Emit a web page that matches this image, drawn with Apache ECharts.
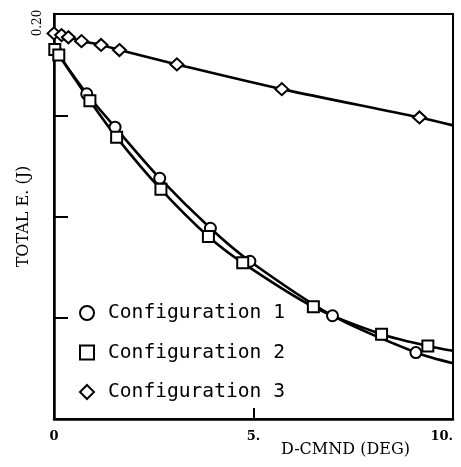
<!DOCTYPE html>
<html>
<head>
<meta charset="utf-8">
<script src="https://cdn.jsdelivr.net/npm/echarts@6/dist/echarts.min.js"></script>
<style>html,body{margin:0;padding:0;background:#fff}#c{width:461px;height:467px}</style>
</head>
<body>
<div id="c"></div>
<script>
// Configuration 1 (circles)
const config1X = [0.82, 1.53, 2.65, 3.92, 4.91, 6.98, 9.07];
const config1Y = [0.1606, 0.1441, 0.1189, 0.0942, 0.0779, 0.0510, 0.0328];
const config1CurveStart = [0.12, 0.1797];
const config1CurveEnd = [10, 0.0275];
// Configuration 2 (squares)
const config2X = [0.02, 0.12, 0.90, 1.57, 2.68, 3.87, 4.73, 6.50, 8.21, 9.37];
const config2Y = [0.1825, 0.1797, 0.1572, 0.1391, 0.1134, 0.0901, 0.0771, 0.0554, 0.0419, 0.0361];
const config2CurveEnd = [10, 0.0337];
// Configuration 3 (diamonds)
const config3X = [0.0, 0.19, 0.36, 0.69, 1.18, 1.64, 3.08, 5.71, 9.16];
const config3Y = [0.1904, 0.1896, 0.1885, 0.1866, 0.1847, 0.1822, 0.1751, 0.1629, 0.1489];
const config3CurveEnd = [10, 0.1450];

const seriesNames = ['Configuration 1', 'Configuration 2', 'Configuration 3'];
const xTickLabels = {0: '0', 5: '5.', 10: '10.'};
const yTickLabels = {'0.2': '0.20'};

function pts(xs, ys) { return xs.map((x, i) => [x, ys[i]]); }
function curve(start, xs, ys, end) {
  const d = [];
  if (start) d.push({value: start, symbol: 'none'});
  pts(xs, ys).forEach(p => d.push({value: p}));
  if (end) d.push({value: end, symbol: 'none'});
  return d;
}

const markerStyle = {color: '#fff', borderColor: '#000', borderWidth: 2};
const lineStyle = {color: '#000', width: 2.6};

const chart = echarts.init(document.getElementById('c'), null, {renderer: 'canvas'});
chart.setOption({
  animation: false,
  backgroundColor: '#fff',
  grid: {left: 54, top: 14, right: 8, bottom: 48, show: true, borderColor: '#000', borderWidth: 2, backgroundColor: 'transparent'},
  legend: {
    orient: 'vertical', left: 74, top: 298, itemGap: 19.5, itemWidth: 14, itemHeight: 14,
    itemStyle: {color: '#fff', borderColor: '#000', borderWidth: 2},
    textStyle: {fontFamily: 'DejaVu Sans Mono', fontSize: 19.6, color: '#000', lineHeight: 20, padding: [0, 0, 0, 9]},
    data: [
      {name: seriesNames[0], icon: 'circle'},
      {name: seriesNames[1], icon: 'rect'},
      {name: seriesNames[2], icon: 'diamond'}
    ]
  },
  xAxis: {
    type: 'value', min: 0, max: 10, interval: 5,
    name: 'D-CMND (DEG)', nameLocation: 'middle', nameGap: 23, nameMoveOverlap: false,
    nameTextStyle: {fontFamily: 'DejaVu Serif', fontSize: 16, color: '#000', padding: [0, 0, 0, 184]},
    axisLine: {lineStyle: {color: '#000', width: 2.5}},
    axisTick: {inside: true, length: 11, lineStyle: {color: '#000', width: 2}},
    axisLabel: {color: '#000', fontFamily: 'DejaVu Serif', fontWeight: 'bold', fontSize: 13, margin: 11,
      alignMaxLabel: 'right',
      formatter: v => xTickLabels[v] !== undefined ? xTickLabels[v] : ''},
    splitLine: {show: false}
  },
  yAxis: {
    type: 'value', min: 0, max: 0.2, interval: 0.05,
    name: 'TOTAL E. (J)', nameLocation: 'middle', nameGap: 22, nameMoveOverlap: false,
    nameTextStyle: {fontFamily: 'DejaVu Serif', fontSize: 16, color: '#000'},
    axisLine: {lineStyle: {color: '#000', width: 2.5}},
    axisTick: {inside: true, length: 14, lineStyle: {color: '#000', width: 2}},
    axisLabel: {color: '#000', fontFamily: 'DejaVu Serif', fontSize: 12, margin: 10, rotate: 90,
      padding: [0, 18, 0, 0],
      formatter: v => yTickLabels[String(Math.round(v * 100) / 100)] || ''},
    splitLine: {show: false}
  },
  series: [
    {name: seriesNames[0], type: 'line', smooth: 0.3, symbol: 'circle', symbolSize: 11,
      itemStyle: markerStyle, lineStyle: lineStyle, z: 3,
      data: curve(config1CurveStart, config1X, config1Y, config1CurveEnd)},
    {name: seriesNames[1], type: 'line', smooth: 0.3, symbol: 'rect', symbolSize: 11,
      itemStyle: markerStyle, lineStyle: lineStyle, z: 3,
      data: curve(null, config2X, config2Y, config2CurveEnd)},
    {name: seriesNames[2], type: 'line', smooth: 0.3, symbol: 'diamond', symbolSize: [13, 12],
      itemStyle: markerStyle, lineStyle: lineStyle, z: 3,
      data: curve(null, config3X, config3Y, config3CurveEnd)}
  ]
});
</script>
</body>
</html>
